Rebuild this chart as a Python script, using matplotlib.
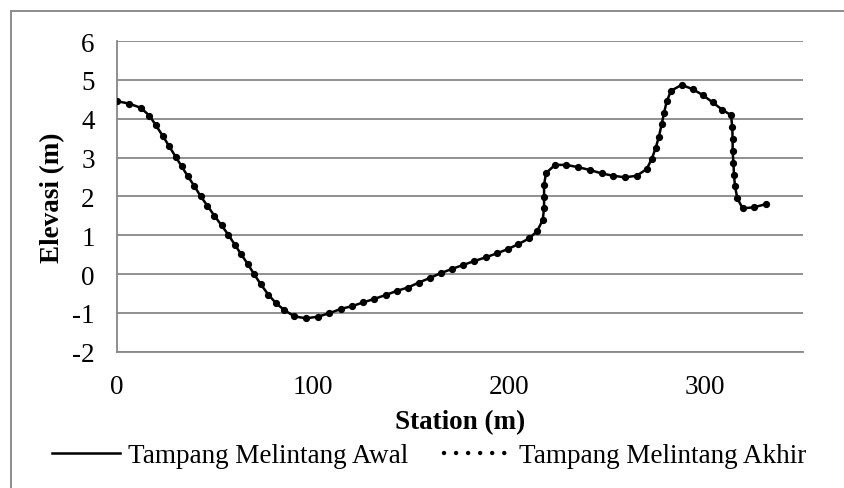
import matplotlib
matplotlib.use("Agg")
import matplotlib.pyplot as plt
from matplotlib.lines import Line2D
from matplotlib.patches import Rectangle

station = [0, 6.1, 12.1, 16.5, 19.7, 23.3, 26.5, 29.9, 33.0, 36.1, 39.4, 42.7, 46.1,
           49.7, 53.4, 56.8, 60.2, 63.3, 66.7, 69.9, 73.3, 77.2, 81.1, 85.4, 90.5,
           96.4, 102.4, 108.3, 114.1, 119.7, 125.7, 131.3, 137.1, 143.0, 148.3,
           154.0, 159.7, 165.1, 170.8, 176.4, 182.1, 188.1, 193.7, 199.3, 204.8,
           210.4, 214.4, 217.2, 217.9, 217.9, 217.9, 218.9, 223.5, 229.2, 235.4,
           241.2, 247.3, 253.2, 259.2, 265.1, 270.2, 272.8, 274.8, 276.5, 277.9,
           279.1, 280.5, 282.7, 288.1, 293.7, 298.8, 303.9, 308.8, 313.3, 313.9,
           314.1, 314.1, 314.5, 314.8, 315.3, 316.5, 319.2, 325.1, 331.1]
elev_awal = [4.45, 4.39, 4.28, 4.08, 3.84, 3.56, 3.30, 3.02, 2.77, 2.52, 2.27, 2.00,
             1.76, 1.50, 1.25, 1.01, 0.75, 0.51, 0.26, 0.00, -0.26, -0.53, -0.75,
             -0.93, -1.09, -1.14, -1.10, -1.01, -0.90, -0.83, -0.73, -0.64, -0.54,
             -0.43, -0.35, -0.22, -0.10, 0.02, 0.13, 0.23, 0.33, 0.43, 0.53, 0.64,
             0.77, 0.92, 1.11, 1.39, 1.69, 1.99, 2.30, 2.60, 2.81, 2.81, 2.75, 2.68,
             2.59, 2.53, 2.49, 2.53, 2.70, 2.96, 3.24, 3.54, 3.86, 4.15, 4.45, 4.72,
             4.87, 4.76, 4.61, 4.42, 4.23, 4.09, 3.78, 3.48, 3.17, 2.86, 2.55, 2.26,
             1.95, 1.69, 1.72, 1.80]
elev_akhir = list(elev_awal)

x_ticks = [0, 100, 200, 300]
y_ticks = [-2, -1, 0, 1, 2, 3, 4, 5, 6]
label_awal = "Tampang Melintang Awal"
label_akhir = "Tampang Melintang Akhir"

plt.rcParams['font.family'] = ['Liberation Serif', 'DejaVu Serif']
plt.rcParams['axes.unicode_minus'] = False

FS = 19.5
W, H = 844, 489
fig = plt.figure(figsize=(W / 100, H / 100), dpi=100)
ax = fig.add_axes([117 / W, (H - 352.7) / H, 686 / W, 310.7 / H])

grid_c = '#878787'
ax.plot(station, elev_awal, color='black', lw=1.8, solid_joinstyle='round', zorder=3)
ax.plot(station, elev_akhir, color='black', lw=0, marker='o', ms=4.2, zorder=4)

ax.set_xlim(0, 350)
ax.set_ylim(-2, 6)
ax.set_xticks(x_ticks)
ax.set_yticks(y_ticks)
ax.tick_params(length=0, labelsize=FS, colors='black')
ax.tick_params(axis='y', pad=16)
ax.tick_params(axis='x', pad=16)
ax.yaxis.grid(True, color=grid_c, lw=1.3)
ax.set_axisbelow(True)
for s in ['top', 'right']:
    ax.spines[s].set_visible(False)
for s in ['left', 'bottom']:
    ax.spines[s].set_color(grid_c)
    ax.spines[s].set_linewidth(1.3)

ax.set_xlabel('Station (m)', fontsize=FS, fontweight='bold', labelpad=7)
ax.set_ylabel('Elevasi (m)', fontsize=FS, fontweight='bold', labelpad=5)

handles = [Line2D([], [], color='black', lw=1.8),
           Line2D([], [], color='black', lw=3.2, linestyle=(0, (0.01, 2.7)),
                  dash_capstyle='round')]
fig.legend(handles, [label_awal, label_akhir], loc='center',
           bbox_to_anchor=(429.5 / W, 1 - 457 / H), ncol=2, frameon=False,
           fontsize=FS, handlelength=2.5, handletextpad=0.3, columnspacing=1.3,
           borderpad=0, borderaxespad=0)

fig.add_artist(Rectangle((11 / W, -0.1), 1.2, (H - 12) / H + 0.1, transform=fig.transFigure,
                         fill=False, edgecolor='#8c8c8c', lw=1.4))

fig.savefig('out.png', dpi=100)
